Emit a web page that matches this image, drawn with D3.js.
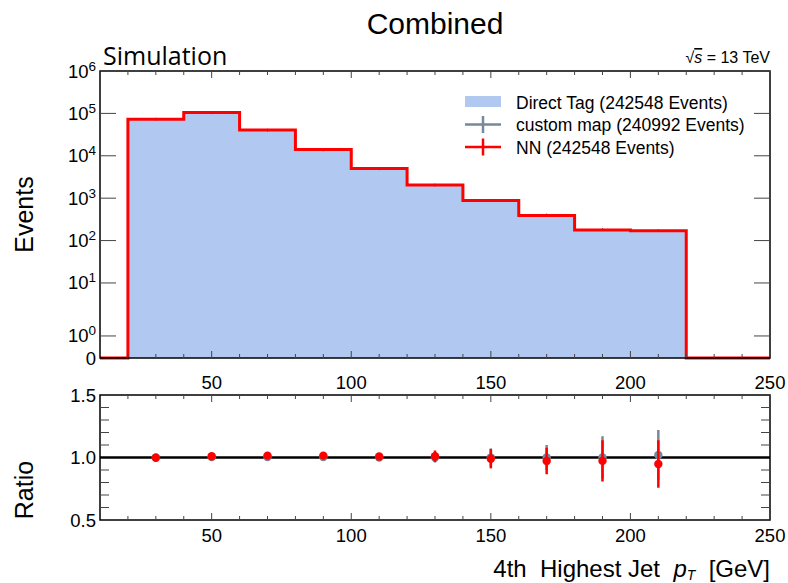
<!DOCTYPE html>
<html>
<head>
<meta charset="utf-8">
<script src="https://cdn.jsdelivr.net/npm/d3@7"></script>
<style>
  html, body { margin: 0; padding: 0; background: #fff; }
  svg { display: block; font-family: "Liberation Sans", Arial, sans-serif; }
</style>
</head>
<body>
<svg id="chart" width="788" height="583"></svg>
<script>
// Histogram bins (GeV), left edges plus the final right edge
const binEdges = [20, 40, 60, 80, 100, 120, 140, 160, 180, 200, 220];
const binCenters = [30, 50, 70, 90, 110, 130, 150, 170, 190, 210];

// Event counts per bin
const directTag = [73000, 105000, 40500, 14000, 5000, 2050, 880, 390, 178, 170];
const nnCounts = [73000, 105000, 40500, 14000, 5000, 2050, 880, 390, 178, 170];
const customCounts = [72800, 104000, 40000, 13800, 4960, 2030, 885, 400, 182, 172];

// Ratio panel
const nnRatio = [0.998, 1.01, 1.015, 1.015, 1.008, 1.01, 0.99, 0.972, 0.973, 0.948];
const nnRatioErr = [0.008, 0.008, 0.01, 0.015, 0.02, 0.046, 0.077, 0.106, 0.165, 0.19];
const customRatio = [1.0, 1.004, 1.004, 1.004, 1.0, 1.0, 1.0, 1.0, 1.0, 1.02];
const customRatioErr = [0.005, 0.006, 0.01, 0.015, 0.025, 0.04, 0.073, 0.1, 0.17, 0.2];

// Axis ticks
const xMajorTicks = [50, 100, 150, 200, 250];
const xMinorTicks = d3.range(20, 250, 10).filter((v) => v % 50 !== 0);
const yMainTicks = [0, 1, 10, 100, 1e3, 1e4, 1e5, 1e6];
const yMainExp = [null, 0, 1, 2, 3, 4, 5, 6];
const yRatioTicks = [0.5, 1.0, 1.5];
const yRatioMinor = [0.6, 0.7, 0.8, 0.9, 1.1, 1.2, 1.3, 1.4];

const legendItems = [
    { key: "direct", label: "Direct Tag (242548 Events)" },
    { key: "custom", label: "custom map (240992 Events)" },
    { key: "nn", label: "NN (242548 Events)" },
];

const FILL = "#b1c8f1";
const RED = "#ff0000";
const GRAY = "#778899";

const L = 100, R = 770;
const MAIN = { top: 71, bottom: 358 };
const RAT = { top: 395, bottom: 520 };

const svg = d3.select("#chart");

const x = d3.scaleLinear().domain([10, 250]).range([L, R]);

// The event axis: zero, a short linear stretch, a stretched first decade,
// then plain decades.
function yWarp(v) {
    if (v <= 0) return 0;
    if (v < 1) return 0.52 * v;
    if (v < 10) return 0.52 + 1.25 * Math.log10(v);
    return 1.77 + Math.log10(v / 10);
}
const yLin = d3.scaleLinear().domain([0, yWarp(1e6)]).range([MAIN.bottom, MAIN.top]);
const y = (v) => yLin(yWarp(v));

const yR = d3.scaleLinear().domain([0.5, 1.5]).range([RAT.bottom, RAT.top]);

// ---- main panel ----
const bins = directTag.map((v, i) => ({ x0: binEdges[i], x1: binEdges[i + 1], v }));

svg.append("g")
    .selectAll("rect")
    .data(bins)
    .join("rect")
    .attr("x", (d) => x(d.x0))
    .attr("width", (d) => x(d.x1) - x(d.x0) + 0.5)
    .attr("y", (d) => y(d.v))
    .attr("height", (d) => y(0) - y(d.v))
    .attr("fill", FILL)
    .attr("shape-rendering", "crispEdges");

// custom map markers (error bars are tiny on this scale)
svg.append("g")
    .selectAll("line")
    .data(customCounts)
    .join("line")
    .attr("x1", (d, i) => x(binCenters[i]))
    .attr("x2", (d, i) => x(binCenters[i]))
    .attr("y1", (d) => y(d) - 1.5)
    .attr("y2", (d) => y(d) + 1.5)
    .attr("stroke", "#555")
    .attr("stroke-width", 1);

// NN step line
const stepPts = [{ e: 10, v: 0 }]
    .concat(nnCounts.map((v, i) => ({ e: binEdges[i], v })))
    .concat([{ e: 220, v: 0 }, { e: 250, v: 0 }]);
svg.append("path")
    .datum(stepPts)
    .attr("d", d3.line().x((d) => x(d.e)).y((d) => y(d.v)).curve(d3.curveStepAfter))
    .attr("fill", "none")
    .attr("stroke", RED)
    .attr("stroke-width", 3);

// ---- ratio panel ----
const rg = svg.append("g");
rg.append("line")
    .attr("x1", L).attr("x2", R)
    .attr("y1", yR(1)).attr("y2", yR(1))
    .attr("stroke", "#000").attr("stroke-width", 2.5);

function drawRatio(vals, errs, color) {
    const g = rg.append("g");
    g.selectAll("line")
        .data(vals)
        .join("line")
        .attr("x1", (d, i) => x(binCenters[i]))
        .attr("x2", (d, i) => x(binCenters[i]))
        .attr("y1", (d, i) => yR(d - errs[i]))
        .attr("y2", (d, i) => yR(d + errs[i]))
        .attr("stroke", color)
        .attr("stroke-width", 2.5);
    g.selectAll("circle")
        .data(vals)
        .join("circle")
        .attr("cx", (d, i) => x(binCenters[i]))
        .attr("cy", (d) => yR(d))
        .attr("r", 4.2)
        .attr("fill", color);
}
drawRatio(customRatio, customRatioErr, GRAY);
drawRatio(nnRatio, nnRatioErr, RED);

// ---- frames and ticks ----
const TICK = "#444";
function frame(top, bottom) {
    svg.append("rect")
        .attr("x", L).attr("y", top)
        .attr("width", R - L).attr("height", bottom - top)
        .attr("fill", "none").attr("stroke", "#000").attr("stroke-width", 1.5);
    const g = svg.append("g").attr("stroke", TICK).attr("stroke-width", 1);
    for (const t of xMajorTicks.concat(xMinorTicks)) {
        const len = xMajorTicks.includes(t) ? 7 : 4;
        g.append("line").attr("x1", x(t)).attr("x2", x(t)).attr("y1", bottom).attr("y2", bottom - len);
        g.append("line").attr("x1", x(t)).attr("x2", x(t)).attr("y1", top).attr("y2", top + len);
    }
    return g;
}

const mainTicks = frame(MAIN.top, MAIN.bottom);
for (const t of yMainTicks.slice(1)) {
    mainTicks.append("line").attr("x1", L).attr("x2", L + 16).attr("y1", y(t)).attr("y2", y(t));
    mainTicks.append("line").attr("x1", R).attr("x2", R - 16).attr("y1", y(t)).attr("y2", y(t));
}
const ratTicks = frame(RAT.top, RAT.bottom);
for (const t of yRatioMinor) {
    ratTicks.append("line").attr("x1", L).attr("x2", L + 9).attr("y1", yR(t)).attr("y2", yR(t));
    ratTicks.append("line").attr("x1", R).attr("x2", R - 9).attr("y1", yR(t)).attr("y2", yR(t));
}

// tick labels
function xLabels(baseline) {
    svg.append("g")
        .selectAll("text")
        .data(xMajorTicks)
        .join("text")
        .attr("x", (d) => x(d))
        .attr("y", baseline)
        .attr("text-anchor", "middle")
        .attr("font-size", 18.5)
        .text((d) => d);
}
xLabels(389);
xLabels(542);

const yl = svg.append("g").attr("font-size", 18.5).attr("text-anchor", "end");
yMainTicks.forEach((t, i) => {
    const txt = yl.append("text").attr("x", 96).attr("y", y(t) + 6.5);
    if (yMainExp[i] === null) {
        txt.text("0");
    } else {
        txt.append("tspan").text("10");
        txt.append("tspan").attr("dy", -7).attr("font-size", 13.5).text(yMainExp[i]);
    }
});
yRatioTicks.forEach((t) => {
    yl.append("text").attr("x", 96).attr("y", yR(t) + 6.5).text(t.toFixed(1));
});

// ---- titles and labels ----
svg.append("text")
    .attr("x", (L + R) / 2).attr("y", 34)
    .attr("text-anchor", "middle").attr("font-size", 30)
    .text("Combined");

svg.append("text")
    .attr("x", 103).attr("y", 65)
    .attr("font-size", 25)
    .attr("font-family", "'Open Sans', sans-serif")
    .text("Simulation");

const rs = svg.append("text")
    .attr("x", R).attr("y", 63)
    .attr("text-anchor", "end").attr("font-size", 16)
    .style("white-space", "pre");
rs.append("tspan").text("\u221A");
rs.append("tspan").attr("font-style", "italic").attr("text-decoration", "overline").text("s");
rs.append("tspan").text(" = 13 TeV");

svg.append("text")
    .attr("transform", `translate(33,${(MAIN.top + MAIN.bottom) / 2}) rotate(-90)`)
    .attr("text-anchor", "middle").attr("font-size", 25)
    .text("Events");

svg.append("text")
    .attr("transform", `translate(33,490) rotate(-90)`)
    .attr("text-anchor", "middle").attr("font-size", 25)
    .text("Ratio");

const xl = svg.append("text")
    .attr("x", R).attr("y", 577)
    .attr("text-anchor", "end").attr("font-size", 24)
    .style("white-space", "pre");
xl.append("tspan").text("4th  Highest Jet  ");
xl.append("tspan").attr("font-style", "italic").text("p");
xl.append("tspan").attr("font-style", "italic").attr("font-size", 14).attr("dy", 3).text("T");
xl.append("tspan").attr("dy", -3).text("  [GeV]");

// ---- legend ----
const lg = svg.append("g").attr("transform", "translate(465,102)");
legendItems.forEach((d, i) => {
    const row = lg.append("g").attr("transform", `translate(0,${i * 22.5})`);
    if (d.key === "direct") {
        row.append("rect").attr("x", 0).attr("y", -6).attr("width", 36).attr("height", 11).attr("fill", FILL);
    } else {
        const c = d.key === "nn" ? RED : GRAY;
        row.append("line").attr("x1", 0).attr("x2", 36).attr("y1", 0).attr("y2", 0)
            .attr("stroke", c).attr("stroke-width", 2.5);
        row.append("line").attr("x1", 18).attr("x2", 18).attr("y1", -8.5).attr("y2", 8.5)
            .attr("stroke", c).attr("stroke-width", 2.5);
    }
    row.append("text").attr("x", 51).attr("y", 6.5).attr("font-size", 17.5).text(d.label);
});
</script>
</body>
</html>
